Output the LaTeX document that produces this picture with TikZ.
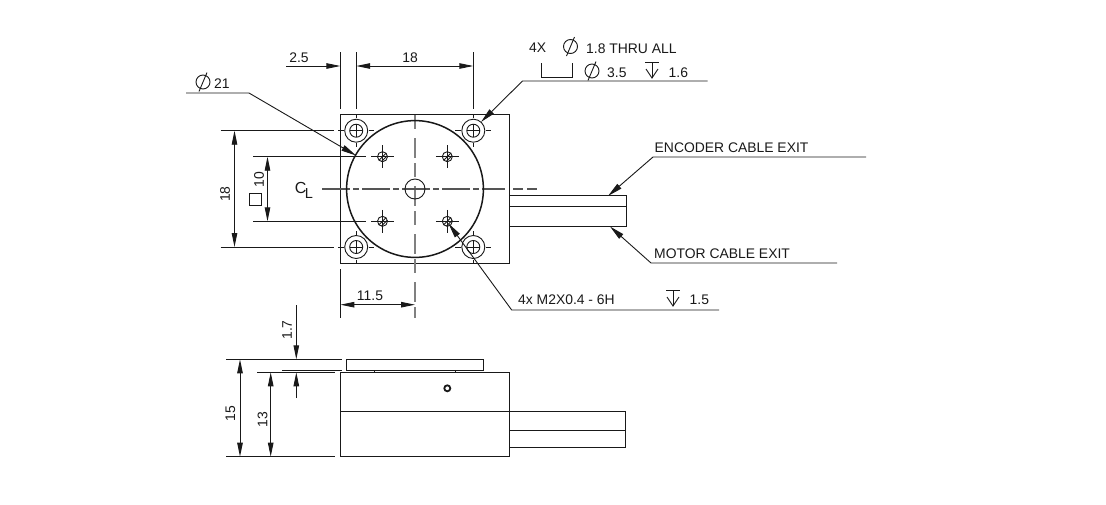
\documentclass[tikz,border=0pt]{standalone}
\usepackage{fontspec}
\setmainfont{Liberation Sans}
\usetikzlibrary{arrows.meta, positioning, calc}
\definecolor{ink1}{RGB}{25, 25, 25}
\definecolor{center1}{RGB}{85, 85, 85}
\tikzset{
  outline/.style={draw=ink1, line width=1.1pt},
  thickline/.style={draw=ink1, line width=1.5pt},
  thinline/.style={draw=ink1, line width=0.9pt},
  centerline/.style={draw=center1, line width=1.2pt, dash pattern=on 28pt off 3pt on 6pt off 3pt},
  dimline/.style={thinline, {Stealth[length=14pt,width=5.5pt,inset=0pt]}-{Stealth[length=14pt,width=5.5pt,inset=0pt]}},
  dimend/.style={thinline, -{Stealth[length=14pt,width=5.5pt,inset=0pt]}},
  leader/.style={thinline, {Stealth[length=15pt,width=6pt,inset=0pt]}-},
  lbl/.style={text=ink1, inner sep=0pt, font=\fontsize{13.9}{16}\selectfont},
  pics/diam/.style={code={
    \draw[thinline] (0,0) circle (7);
    \draw[thinline] (-4,9.5) -- (4,-9.5);
  }},
  pics/depth/.style={code={
    \draw[thinline] (-7,-8) -- (7,-8);
    \draw[thinline] (0,-8) -- (0,8);
    \draw[thinline] (-6,-1) -- (0,8) -- (6,-1);
  }},
}
\begin{document}
\begin{tikzpicture}[x=1pt, y=-1pt]
  \useasboundingbox (0,0) rectangle (1106,504);
  % top view
  \draw[outline] (340.4,114.4) rectangle (509.4,263.4);
  \draw[centerline, draw=center1!75, dash pattern=on 14pt off 9pt on 20pt off 5pt] (415,115) -- (415,318);
  \draw[centerline] (322,189) -- (505,189);
  \draw[centerline, dash pattern=on 10pt off 4pt] (513,189) -- (538,189);
  \draw[thickline] (415,189) circle (68.4);
  \draw[thinline] (415,189) circle (10);
  % mounting holes
  \foreach \hx in {356.2,473.3} {
    \foreach \hy in {130.7,247} {
      \draw[thinline] (\hx,\hy) circle (11.5) (\hx,\hy) circle (6.5);
      \draw[thinline] (\hx-6.5,\hy) -- (\hx+6.5,\hy) (\hx,\hy-6.5) -- (\hx,\hy+6.5);
      \draw[thinline] (\hx-18,\hy) -- (\hx-12.5,\hy) (\hx+12.5,\hy) -- (\hx+18,\hy);
      \draw[thinline] (\hx,\hy-16) -- (\hx,\hy-12.5) (\hx,\hy+12.5) -- (\hx,\hy+16);
    }
  }
  % threaded holes
  \foreach \hx in {382.5,447.3} {
    \foreach \hy in {156.7,221.3} {
      \draw[thinline] (\hx,\hy) circle (5);
      \draw[thinline] (\hx-11.5,\hy) -- (\hx+11.5,\hy) (\hx,\hy-11.5) -- (\hx,\hy+11.5);
      \draw[thinline] (\hx-3.5,\hy+3.5) -- (\hx+3.5,\hy-3.5) (\hx-1,\hy+4.8) -- (\hx+4.8,\hy-1);
    }
  }
  % cable, top view
  \draw[thinline] (509.4,195.7) -- (626,195.7) -- (626,226.3) -- (509.4,226.3);
  \draw[thinline] (509.4,206.7) -- (626,206.7);
  % side view
  \draw[outline] (346.7,359.3) rectangle (483.3,370.3);
  \draw[outline] (340.4,372.3) rectangle (509.4,456.7);
  \draw[outline] (340.4,411.3) -- (509.4,411.3);
  \draw[thinline] (374.3,370.3) -- (374.3,372.3) (455.7,370.3) -- (455.7,372.3);
  \draw[draw=ink1, line width=1.8pt] (447.3,388.3) circle (3);
  \draw[thinline] (509.4,411.3) -- (625.7,411.3) -- (625.7,447.3) -- (509.4,447.3);
  \draw[outline] (509.4,430.7) -- (625.7,430.7);
  % extension lines
  \draw[thinline] (340.4,52) -- (340.4,109) (356.2,52) -- (356.2,109) (473.3,52) -- (473.3,109);
  \draw[thinline] (220.5,130.7) -- (333.5,130.7) (220.5,247) -- (333.5,247);
  \draw[thinline] (253,156.7) -- (366,156.7) (253,221.3) -- (366,221.3);
  \draw[thinline] (340.4,269) -- (340.4,318);
  \draw[thinline] (226,359.3) -- (342,359.3) (282.3,370.3) -- (342,370.3);
  \draw[thinline] (257,372.3) -- (335,372.3);
  \draw[thinline] (226,456.7) -- (257,456.7);
  \draw[outline] (257,456.7) -- (335,456.7);
  % dimensions
  \draw[dimend] (286,66) -- (340.4,66);
  \draw[dimline] (356.2,66) -- (473.3,66);
  \draw[dimline] (234.5,130.7) -- (234.5,247);
  \draw[dimline] (267.5,156.7) -- (267.5,221.3);
  \draw[dimline] (340.4,304.7) -- (415,304.7);
  \draw[dimline] (240,359.3) -- (240,456.7);
  \draw[dimline] (270.7,372.3) -- (270.7,456.7);
  \draw[dimend] (296.3,305) -- (296.3,359.3);
  \draw[dimend] (296.3,398) -- (296.3,372.3);
  % leaders
  \coordinate (leadDia) at (249,93);
  \coordinate (leadHole) at (522.5,81);
  \coordinate (leadEnc) at (653,157);
  \coordinate (leadMot) at (651,263);
  \coordinate (leadThr) at (511.7,310);
  \draw[leader] (356,155.5) -- (leadDia) -- (186,93);
  \draw[leader] (481,122) -- (leadHole) -- (707.5,81);
  \draw[leader] (608,196) -- (leadEnc) -- (866,157);
  \draw[leader] (610,226.5) -- (leadMot) -- (837,263);
  \draw[leader] (448.5,223.5) -- (leadThr) -- (719,310);
  % counterbore bracket
  \draw[thinline] (541.5,63) -- (541.5,77) -- (572.5,77) -- (572.5,63);
  % labels
  \node[lbl] (lblWidth) at (299,57.5) {2.5};
  \node[lbl] (lblSpan) at (410,57.5) {18};
  \node[lbl, anchor=west] (lblDia) at (214,84) {21};
  \pic at (203,82) {diam};
  \node[lbl, anchor=west] (lblX) at (529,48) {4X};
  \pic at (570.5,46.5) {diam};
  \node[lbl, anchor=west] (lblThru) at (586,49) {1.8 THRU ALL};
  \pic at (592,71) {diam};
  \node[lbl, anchor=west] (lblBore) at (607,73) {3.5};
  \pic at (652,70) {depth};
  \node[lbl, anchor=west] (lblDepth) at (668.5,73) {1.6};
  \node[lbl, anchor=west] (lblEnc) at (654.5,148) {ENCODER CABLE EXIT};
  \node[lbl, anchor=west] (lblMot) at (654,254) {MOTOR CABLE EXIT};
  \node[lbl, anchor=west] (lblThr) at (518,300) {4x M2X0.4 - 6H};
  \pic at (673,298) {depth};
  \node[lbl, anchor=west] (lblThrD) at (689.5,300) {1.5};
  \node[lbl] (lblOff) at (370,295.5) {11.5};
  \node[lbl, rotate=90] (lblHt) at (225,194) {18};
  \node[lbl, rotate=90] (lblSq) at (259,179.5) {10};
  \draw[thinline] (249.5,193.5) rectangle (261.5,205.5);
  \node[lbl, anchor=center] (lblCL) at (304,190) {\fontsize{16}{18}\selectfont C\kern-1.5pt\raisebox{-5pt}{\fontsize{14.5}{16}\selectfont L}};
  \node[lbl, rotate=90] (lblFull) at (230.5,413.5) {15};
  \node[lbl, rotate=90] (lblBody) at (262.5,419.5) {13};
  \node[lbl, rotate=90] (lblPlate) at (287,330) {1.7};
\end{tikzpicture}
\end{document}
